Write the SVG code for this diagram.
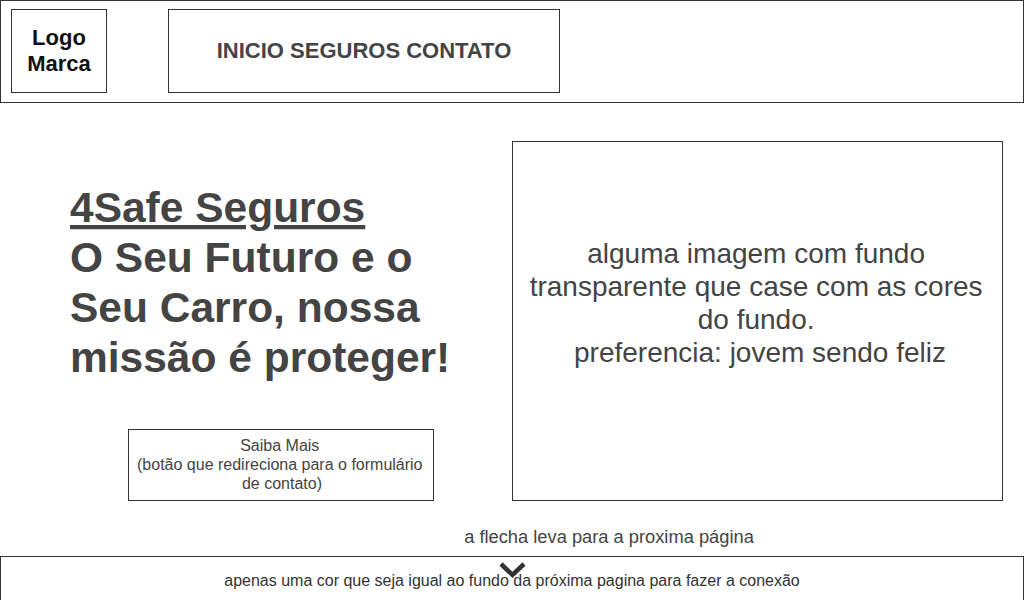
<svg xmlns="http://www.w3.org/2000/svg" width="1024" height="600" viewBox="0 0 1024 600">
<style>
.box{fill:#fff;stroke:#333;stroke-width:1}
text{font-family:"Liberation Sans",Arial,sans-serif;fill:#333}
.c{text-anchor:middle}
.b{font-weight:bold}
</style>
<rect width="1024" height="600" fill="#fff"/>
<g id="header">
<rect class="box" x="0.5" y="0.5" width="1023" height="102"/>
</g>
<g id="logo">
<rect class="box" x="11.5" y="9.5" width="95" height="83"/>
<text class="c b" x="59" y="45" font-size="22" style="fill:#111">Logo</text>
<text class="c b" x="59" y="71" font-size="22" style="fill:#111">Marca</text>
</g>
<g id="nav">
<rect class="box" x="168.5" y="9.5" width="391" height="83"/>
<text class="c b" x="364" y="58" font-size="22" style="fill:#444">INICIO SEGUROS CONTATO</text>
</g>
<g id="hero">
<text class="b" font-size="42.5" style="fill:#444">
<tspan x="70" y="222" text-decoration="underline">4Safe Seguros</tspan>
<tspan x="70" y="272">O Seu Futuro e o</tspan>
<tspan x="70" y="322">Seu Carro, nossa</tspan>
<tspan x="70" y="372">missão é proteger!</tspan>
</text>
</g>
<g id="image">
<rect class="box" x="512.5" y="141.5" width="490" height="359"/>
<text class="c" font-size="28" style="fill:#444">
<tspan x="760" y="263">alguma imagem com fundo</tspan>
<tspan x="760" y="296">transparente que case com as cores</tspan>
<tspan x="760" y="329">do fundo.</tspan>
<tspan x="760" y="362">preferencia: jovem sendo feliz</tspan>
</text>
</g>
<g id="button">
<rect class="box" x="128.5" y="429.5" width="305" height="71"/>
<text class="c" font-size="16" style="fill:#444">
<tspan x="282" y="451">Saiba Mais</tspan>
<tspan x="282" y="470">(botão que redireciona para o formulário</tspan>
<tspan x="282" y="489">de contato)</tspan>
</text>
</g>
<g id="arrow-note">
<text class="c" x="609" y="543" font-size="18.3" style="fill:#444">a flecha leva para a proxima página</text>
</g>
<g id="footer">
<rect class="box" x="0.5" y="556.5" width="1023" height="60"/>
<text class="c" x="512" y="586" font-size="16" style="fill:#333">apenas uma cor que seja igual ao fundo da próxima pagina para fazer a conexão</text>
</g>
<g id="connectors">
<polyline points="501,564 512.5,575 524,564" fill="none" stroke="#333" stroke-width="4.5"/>
</g>
</svg>
